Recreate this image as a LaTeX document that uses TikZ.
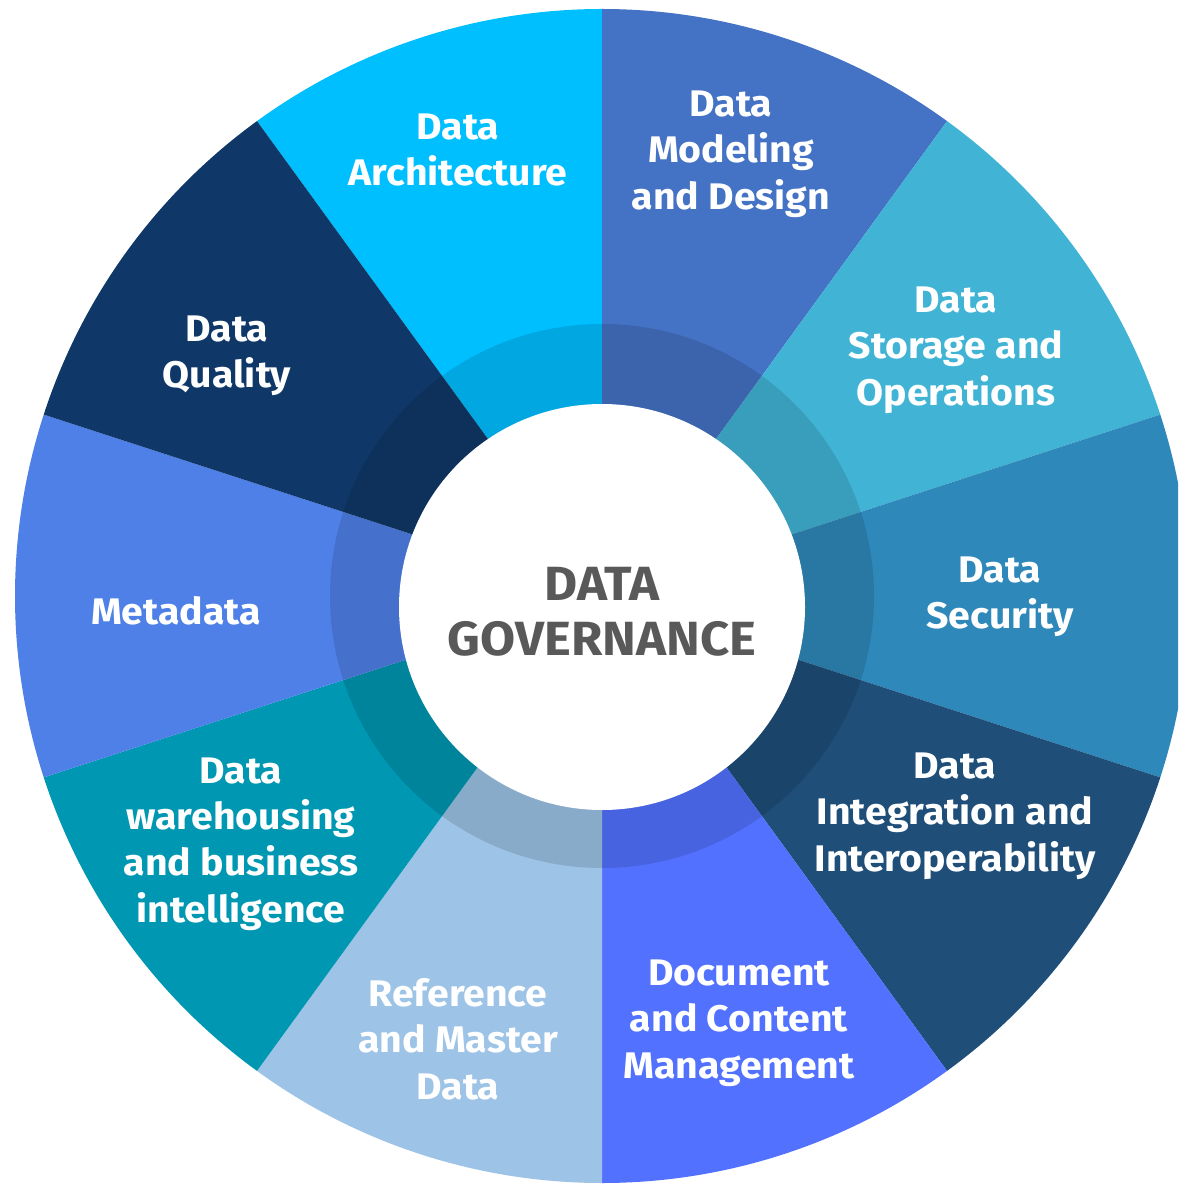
\documentclass[tikz,border=0pt]{standalone}
\usepackage{fontspec}
\setmainfont{Fira Sans}[FakeStretch=1.06]
\definecolor{cArch}{HTML}{00BFFF}
\definecolor{cModel}{HTML}{4472C4}
\definecolor{cStor}{HTML}{41B4D6}
\definecolor{cSec}{HTML}{2E89BA}
\definecolor{cInteg}{HTML}{1F4E79}
\definecolor{cDoc}{HTML}{5271FF}
\definecolor{cRef}{HTML}{9DC3E6}
\definecolor{cWare}{HTML}{0097B2}
\definecolor{cMeta}{HTML}{4F80E8}
\definecolor{cQual}{HTML}{0F3868}
\definecolor{cGov}{HTML}{595959}
\tikzset{
  lbl/.style={text=white, align=center, inner sep=0pt,
    font=\bfseries\fontsize{18.5}{23.2}\selectfont},
  govlbl/.style={text=cGov, align=center, inner sep=0pt,
    font=\bfseries\fontsize{24}{27.5}\selectfont},
}
\newcommand{\wedgeseg}[3]{%
  \fill[#1] (602,-596) -- ++(#2:587) arc[start angle=#2, end angle=#3, radius=587] -- cycle;}
\begin{document}
\begin{tikzpicture}[x=0.5pt, y=0.5pt]
\useasboundingbox (0,0) rectangle (1178,-1186);
\clip (0,0) rectangle (1178,-1186);
\wedgeseg{cArch}{90}{126}
\wedgeseg{cModel}{54}{90}
\wedgeseg{cStor}{18}{54}
\wedgeseg{cSec}{-18}{18}
\wedgeseg{cInteg}{-54}{-18}
\wedgeseg{cDoc}{-90}{-54}
\wedgeseg{cRef}{-126}{-90}
\wedgeseg{cWare}{-162}{-126}
\wedgeseg{cMeta}{162}{198}
\wedgeseg{cQual}{126}{162}
\fill[black, opacity=0.12] (602,-596) circle (272);
\fill[white] (602,-607) circle (203);
\node[govlbl] (gov) at (602,-612) {DATA\\GOVERNANCE};
\node[lbl] (arch) at (458,-150) {Data\\Architecture};
\node[lbl] (model) at (731,-154) {Data\\Modeling\\and Design};
\node[lbl] (stor) at (956,-350) {Data\\Storage and\\Operations};
\node[lbl] (sec) at (1000,-597) {Data\\Security};
\node[lbl] (integ) at (955,-816) {Data\\Integration and\\Interoperability};
\node[lbl] (doc) at (739,-1023) {Document\\and Content\\Management};
\node[lbl] (ref) at (458,-1039) {Reference\\and Master\\Data};
\node[lbl] (ware) at (241,-844) {Data\\warehousing\\and business\\intelligence};
\node[lbl] (meta) at (176,-611) {Metadata};
\node[lbl] (qual) at (227,-356) {Data\\Quality};
\end{tikzpicture}
\end{document}
